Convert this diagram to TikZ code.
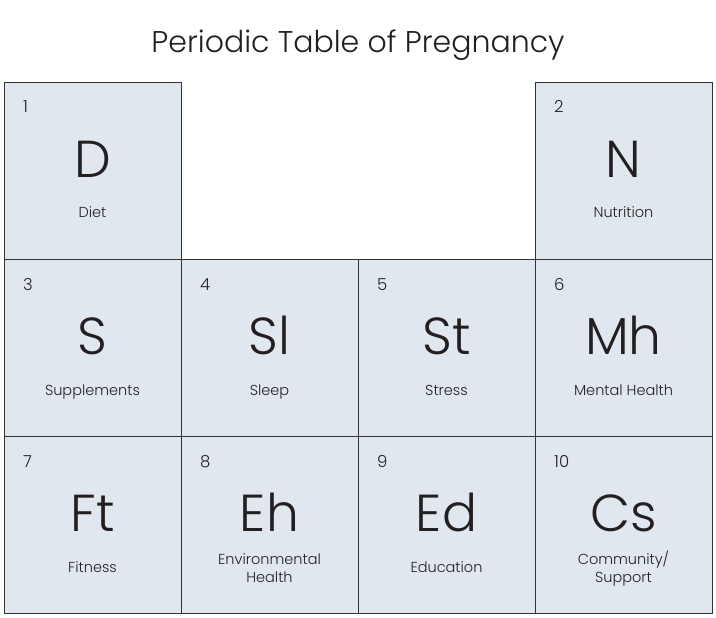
\documentclass[tikz,border=0pt]{standalone}
\usepackage{fontspec}
\setmainfont{Poppins}[UprightFont=* Light]
\definecolor{cellfill}{HTML}{E1E7EF}
\definecolor{cellline}{HTML}{333333}
\definecolor{ink}{HTML}{231F20}
\begin{document}
\begin{tikzpicture}[x=1pt,y=-1pt,
  cell/.style={draw=cellline,fill=cellfill,line width=1.3pt,minimum width=177pt,minimum height=177pt,inner sep=0pt,anchor=north west},
  num/.style={anchor=base west,inner sep=0pt,font=\fontsize{16.5}{19}\selectfont,text=ink},
  sym/.style={anchor=base,inner sep=0pt,font=\fontsize{52}{60}\selectfont,text=ink},
  lab/.style={anchor=base,inner sep=0pt,font=\fontsize{14.5}{18}\selectfont,text=ink,align=center}]
\useasboundingbox (0,0) rectangle (716,618);
\node[anchor=base,inner sep=0pt,font=\fontsize{30}{36}\selectfont,text=ink] (title) at (358,53) {Periodic Table of Pregnancy};
\foreach \n/\x/\y/\k/\s/\l in {
  c1/4/82/1/D/Diet,
  c2/535/82/2/N/Nutrition,
  c3/4/259/3/S/Supplements,
  c4/181/259/4/Sl/Sleep,
  c5/358/259/5/St/Stress,
  c6/535/259/6/Mh/Mental Health,
  c7/4/436/7/Ft/Fitness,
  c9/358/436/9/Ed/Education}{
  \node[cell] (\n) at (\x,\y) {};
  \node[num] (\n-num) at (\x+19,\y+31) {\k};
  \node[sym] (\n-sym) at (\x+88.5,\y+95) {\s};
  \node[lab] (\n-lab) at (\x+88.5,\y+136) {\l};
}
\node[cell] (c8) at (181,436) {};
\node[num] (c8-num) at (200,467) {8};
\node[sym] (c8-sym) at (269.5,531) {Eh};
\node[lab] (c8-lab) at (269.5,582) {Environmental\\[0pt]Health};
\node[cell] (c10) at (535,436) {};
\node[num] (c10-num) at (554,467) {10};
\node[sym] (c10-sym) at (623.5,531) {Cs};
\node[lab] (c10-lab) at (623.5,582) {Community/\\[0pt]Support};
\end{tikzpicture}
\end{document}
